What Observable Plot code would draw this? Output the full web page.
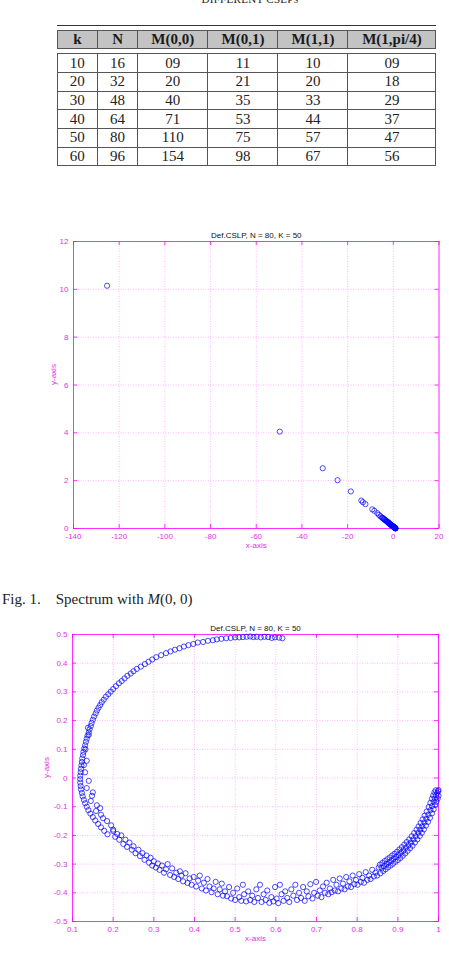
<!DOCTYPE html>
<html><head><meta charset="utf-8">
<script src="https://cdn.jsdelivr.net/npm/d3@7"></script>
<script src="https://cdn.jsdelivr.net/npm/@observablehq/plot@0.6"></script>
<style>
html,body{margin:0;padding:0;background:#fff}
body{width:449px;height:962px;position:relative;overflow:hidden}
.abs{position:absolute}
#ttitle{top:-6px;left:150px;width:200px;text-align:center;font:11px/11px "Liberation Serif",serif;font-variant:small-caps;color:#222;letter-spacing:0.3px}
#rule{top:24.5px;left:56.5px;width:379px;height:1px;background:#333}
table{border-collapse:collapse;table-layout:fixed;font-family:"Liberation Serif",serif;font-size:15px;color:#222}
td,th{border:1px solid #555;text-align:center;padding:0;overflow:hidden;white-space:nowrap}
#thead{top:30px;left:56.5px;width:379px}
#thead th{height:17.3px;line-height:17px;background:#c3c3c3;font-weight:bold;color:#1a1a1a}
#tbody{top:53.3px;left:56.5px;width:379px}
#tbody td{height:17.65px;line-height:17px}
#cap{top:592px;left:2px;font:15px/15px "Liberation Serif",serif;color:#222;white-space:pre}
#cap i{font-style:italic}
svg{display:block}
</style></head><body>
<script>
// ---------- table data ----------
const tableTitle = "DIFFERENT CSLPs";
const tableHeader = ["k", "N", "M(0,0)", "M(0,1)", "M(1,1)", "M(1,pi/4)"];
const kValues = ["10", "20", "30", "40", "50", "60"];
const nValues = ["16", "32", "48", "64", "80", "96"];
const m00 = ["09", "20", "40", "71", "110", "154"];
const m01 = ["11", "21", "35", "53", "75", "98"];
const m11 = ["10", "20", "33", "44", "57", "67"];
const m1pi4 = ["09", "18", "29", "37", "47", "56"];

// ---------- figure texts ----------
const plotTitle = "Def.CSLP, N = 80, K = 50";
const xLabel = "x-axis";
const yLabel = "y-axis";

// ---------- plot 1 (Spectrum with M(0,0)) ----------
const p1XDomain = [-140, 20];
const p1YDomain = [0, 12];
const p1XTicks = [-140, -120, -100, -80, -60, -40, -20, 0, 20];
const p1YTicks = [0, 2, 4, 6, 8, 10, 12];
const p1X = [-125.3, -49.7, -30.9, -24.4, -18.6, -14.0, -13.3, -12.2, -9.2, -8.3, -7.0, -6.3, -5.6,
  -5.0, -4.7, -4.4, -4.1, -3.9, -3.6, -3.4, -3.0, -2.8, -2.6, -2.4, -2.2, -2.0, -1.9, -1.6, -1.5,
  -1.3, -1.15, -1.0, -0.8, -0.7, -0.6, -0.5, -0.4, -0.25, -0.1, 0.0, 0.05, 0.2, 0.3, 0.35, 0.45,
  0.5, 0.6, 0.65, 0.7, 0.8, 0.85, 0.9, 0.95, 1.0];
const p1Y = [10.15, 4.05, 2.52, 2.02, 1.55, 1.17, 1.10, 1.02, 0.80, 0.74, 0.64, 0.57, 0.51,
  0.46, 0.44, 0.42, 0.40, 0.38, 0.36, 0.34, 0.31, 0.30, 0.28, 0.27, 0.25, 0.23, 0.22, 0.20, 0.19,
  0.18, 0.165, 0.15, 0.14, 0.13, 0.12, 0.115, 0.11, 0.10, 0.085, 0.075, 0.07, 0.06, 0.055, 0.05, 0.045,
  0.04, 0.03, 0.025, 0.02, 0.015, 0.012, 0.01, 0.008, 0.005];

// ---------- plot 2 ----------
const p2XDomain = [0.1, 1];
const p2YDomain = [-0.5, 0.5];
const p2XTicks = [0.1, 0.2, 0.3, 0.4, 0.5, 0.6, 0.7, 0.8, 0.9, 1];
const p2YTicks = [-0.5, -0.4, -0.3, -0.2, -0.1, 0, 0.1, 0.2, 0.3, 0.4, 0.5];
const arcTop = [[0.616,0.487],[0.608,0.489],[0.598,0.490],[0.590,0.488],[0.581,0.491],[0.572,0.492],[0.563,0.490],
  [0.553,0.492],[0.545,0.491],[0.537,0.493],[0.528,0.492],[0.519,0.491],[0.510,0.490],[0.500,0.490],[0.489,0.488],
  [0.478,0.487],[0.466,0.485],[0.455,0.483],[0.445,0.480],[0.433,0.478],[0.421,0.474],[0.408,0.472],[0.397,0.467],
  [0.385,0.463],[0.374,0.458],[0.363,0.452],[0.352,0.447],[0.341,0.441],[0.330,0.435],[0.318,0.428],[0.306,0.421],
  [0.296,0.413],[0.287,0.405],[0.278,0.397],[0.268,0.388],[0.258,0.380],[0.250,0.372],[0.243,0.364],[0.235,0.356],
  [0.228,0.347],[0.221,0.338],[0.214,0.330],[0.207,0.320],[0.200,0.310],[0.194,0.301],[0.188,0.292],[0.182,0.283],
  [0.177,0.273],[0.172,0.264],[0.168,0.254],[0.164,0.245]];
const arcLeft = [[0.160,0.235],[0.157,0.225],[0.153,0.214],[0.150,0.203],[0.147,0.192],[0.145,0.181],[0.142,0.170],
  [0.140,0.159],[0.137,0.148],[0.135,0.137],[0.133,0.126],[0.131,0.114],[0.129,0.103],[0.127,0.091],[0.126,0.080],
  [0.124,0.068],[0.123,0.056],[0.122,0.044],[0.121,0.032],[0.120,0.020],[0.119,0.008],[0.119,-0.004],[0.119,-0.016],
  [0.120,-0.028],[0.121,-0.040],[0.123,-0.052],[0.125,-0.064],[0.128,-0.076],[0.131,-0.088],[0.135,-0.100],
  [0.139,-0.112],[0.144,-0.124],[0.150,-0.136],[0.156,-0.148],[0.163,-0.160],[0.170,-0.172],[0.178,-0.184],
  [0.186,-0.196],[0.140,0.150],[0.132,0.100],[0.135,0.060],[0.131,0.020],[0.140,-0.010],[0.135,-0.035],
  [0.150,-0.050],[0.145,-0.080],[0.160,-0.095],[0.158,-0.115],[0.170,-0.128],[0.175,-0.140],[0.185,-0.150],
  [0.195,-0.165],[0.200,-0.180],[0.168,-0.105],[0.148,-0.062],[0.128,0.045],[0.138,0.175]];
const arcBottom = [[0.200,-0.185],[0.205,-0.205],[0.210,-0.195],[0.215,-0.215],[0.220,-0.200],[0.225,-0.230],
  [0.230,-0.215],[0.234,-0.240],[0.240,-0.225],[0.246,-0.250],[0.250,-0.238],[0.255,-0.262],[0.262,-0.250],
  [0.266,-0.272],[0.272,-0.262],[0.277,-0.285],[0.282,-0.270],[0.288,-0.295],[0.292,-0.278],[0.296,-0.305],
  [0.300,-0.290],[0.305,-0.312],[0.310,-0.298],[0.314,-0.320],[0.320,-0.305],[0.325,-0.330],[0.330,-0.318],
  [0.334,-0.300],[0.340,-0.338],[0.345,-0.315],[0.350,-0.345],[0.355,-0.330],[0.360,-0.352],[0.364,-0.325],
  [0.368,-0.340],[0.372,-0.360],[0.378,-0.332],[0.383,-0.366],[0.388,-0.350],[0.393,-0.372],[0.398,-0.345],
  [0.404,-0.378],[0.409,-0.358],[0.413,-0.340],[0.418,-0.385],[0.423,-0.365],[0.428,-0.392],[0.432,-0.352],
  [0.437,-0.378],[0.442,-0.398],[0.447,-0.385],[0.452,-0.362],[0.457,-0.405],[0.462,-0.388],[0.467,-0.368],
  [0.470,-0.410],[0.475,-0.395],[0.480,-0.412],[0.485,-0.380],[0.490,-0.420],[0.495,-0.400],[0.500,-0.425],
  [0.505,-0.385],[0.510,-0.415],[0.515,-0.428],[0.519,-0.372],[0.522,-0.405],[0.527,-0.430],[0.532,-0.395],
  [0.537,-0.425],[0.542,-0.410],[0.547,-0.432],[0.552,-0.388],[0.556,-0.418],[0.561,-0.372],[0.565,-0.432],
  [0.570,-0.405],[0.575,-0.425],[0.579,-0.392],[0.584,-0.435],[0.589,-0.415],[0.594,-0.430],[0.598,-0.380],
  [0.602,-0.420],[0.606,-0.436],[0.610,-0.372],[0.614,-0.405],[0.619,-0.428],[0.623,-0.395],[0.628,-0.418],
  [0.633,-0.432],[0.638,-0.388],[0.643,-0.410],[0.648,-0.372],[0.652,-0.425],[0.657,-0.400],[0.662,-0.418],
  [0.667,-0.380],[0.671,-0.428],[0.676,-0.395],[0.680,-0.412],[0.685,-0.370],[0.690,-0.420],[0.694,-0.400],
  [0.699,-0.362],[0.703,-0.410],[0.708,-0.392],[0.712,-0.415],[0.716,-0.378],[0.721,-0.400],[0.725,-0.365],
  [0.729,-0.405],[0.733,-0.385],[0.737,-0.398],[0.741,-0.355],[0.745,-0.392],[0.749,-0.372],[0.753,-0.395],
  [0.757,-0.350],[0.761,-0.385],[0.765,-0.368],[0.769,-0.388],[0.773,-0.345],[0.777,-0.378],[0.781,-0.360],
  [0.785,-0.380],[0.789,-0.340],[0.793,-0.370],[0.797,-0.355],[0.801,-0.372],[0.805,-0.335],[0.809,-0.362],
  [0.813,-0.348],[0.817,-0.365],[0.821,-0.328],[0.825,-0.355],[0.829,-0.340],[0.833,-0.352],[0.837,-0.320],
  [0.841,-0.343],[0.845,-0.330],[0.849,-0.340],[0.853,-0.312],[0.857,-0.332]];
const arcRight = [[0.860,-0.313],[0.866,-0.307],[0.872,-0.300],[0.878,-0.294],[0.884,-0.288],[0.890,-0.281],
  [0.896,-0.275],[0.902,-0.268],[0.908,-0.260],[0.914,-0.252],[0.920,-0.243],[0.926,-0.234],[0.932,-0.225],
  [0.938,-0.214],[0.944,-0.203],[0.950,-0.191],[0.955,-0.180],[0.960,-0.168],[0.965,-0.155],[0.970,-0.142],
  [0.975,-0.128],[0.980,-0.112],[0.984,-0.098],[0.988,-0.083],[0.991,-0.072],[0.994,-0.061],[0.997,-0.052],
  [0.999,-0.046],[1.000,-0.042],
  [0.856,-0.302],[0.862,-0.296],[0.868,-0.289],[0.874,-0.283],[0.880,-0.277],[0.886,-0.270],[0.892,-0.264],
  [0.898,-0.257],[0.904,-0.249],[0.910,-0.241],[0.916,-0.232],[0.922,-0.223],[0.928,-0.214],[0.934,-0.203],
  [0.940,-0.192],[0.946,-0.180],[0.951,-0.169],[0.956,-0.157],[0.961,-0.144],[0.966,-0.131],[0.971,-0.117],
  [0.976,-0.101],[0.980,-0.087],[0.984,-0.072],[0.987,-0.061],[0.990,-0.050],[0.993,-0.043],
  [0.864,-0.324],[0.870,-0.318],[0.876,-0.311],[0.882,-0.305],[0.888,-0.299],[0.894,-0.292],[0.900,-0.286],
  [0.906,-0.279],[0.912,-0.271],[0.918,-0.263],[0.924,-0.254],[0.930,-0.245],[0.936,-0.236],[0.942,-0.225],
  [0.948,-0.214],[0.954,-0.202],[0.959,-0.191],[0.964,-0.179],[0.969,-0.166],[0.974,-0.153],[0.979,-0.139],
  [0.984,-0.123],[0.988,-0.109],[0.992,-0.094],[0.995,-0.083],[0.998,-0.072],[1.000,-0.062]];

// ---------- page build ----------
const body = document.body;
function add(tag, id, cls, html) {
  const el = document.createElement(tag);
  if (id) el.id = id;
  if (cls) el.className = cls;
  if (html != null) el.innerHTML = html;
  body.appendChild(el);
  return el;
}
add("div", "ttitle", "abs", tableTitle);
add("div", "rule", "abs");
const colWidths = [40.6, 40, 70.4, 70, 70, 88];
function colgroup() { return "<colgroup>" + colWidths.map(w => `<col style="width:${w}px">`).join("") + "</colgroup>"; }
add("table", "thead", "abs", colgroup() + "<tr>" + tableHeader.map(h => `<th>${h}</th>`).join("") + "</tr>");
const cols = [kValues, nValues, m00, m01, m11, m1pi4];
add("table", "tbody", "abs", colgroup() + kValues.map((_, i) => "<tr>" + cols.map(c => `<td>${c[i]}</td>`).join("") + "</tr>").join(""));
add("div", "cap", "abs", "Fig. 1.    Spectrum with <i>M</i>(0, 0)");

const MAG = "#f0f";
const LAB = "#e62ee6";
function matlabPlot({points, xDomain, yDomain, xTicks, yTicks, marginLeft, marginRight, yLabelDx}) {
  const H = 340, mt = 21, mb = 32;
  const frameH = H - mt - mb;
  const frameW = 449 - marginLeft - marginRight;
  const fmt = d => String(d);
  return Plot.plot({
    width: 449, height: H, marginTop: mt, marginBottom: mb, marginLeft, marginRight,
    style: {fontFamily: "'Liberation Sans', Arial, sans-serif", fontSize: "8px", background: "transparent", overflow: "visible"},
    x: {domain: xDomain},
    y: {domain: yDomain},
    marks: [
      Plot.gridX(xTicks, {stroke: MAG, strokeOpacity: 0.28, strokeDasharray: "1,1.5"}),
      Plot.gridY(yTicks, {stroke: MAG, strokeOpacity: 0.28, strokeDasharray: "1,1.5"}),
      Plot.tickX(xTicks, {x: d => d, insetTop: frameH - 4, stroke: MAG, strokeOpacity: 0.8}),
      Plot.tickX(xTicks, {x: d => d, insetBottom: frameH - 4, stroke: MAG, strokeOpacity: 0.8}),
      Plot.tickY(yTicks, {y: d => d, insetRight: frameW - 4, stroke: MAG, strokeOpacity: 0.8}),
      Plot.tickY(yTicks, {y: d => d, insetLeft: frameW - 4, stroke: MAG, strokeOpacity: 0.8}),
      Plot.frame({stroke: MAG, strokeOpacity: 0.8}),
      Plot.axisX(xTicks, {tickSize: 0, tickPadding: 5, tickFormat: fmt, fill: LAB, label: null, fontSize: 8}),
      Plot.axisY(yTicks, {tickSize: 0, tickPadding: 5, tickFormat: fmt, fill: LAB, label: null, fontSize: 8}),
      Plot.text([xLabel], {frameAnchor: "bottom", dy: 19, fill: LAB, fontSize: 8}),
      Plot.text([yLabel], {frameAnchor: "left", dx: yLabelDx, rotate: -90, fill: LAB, fontSize: 8}),
      Plot.text([plotTitle], {frameAnchor: "top", dy: -9, fill: "#111", fontSize: 8}),
      Plot.dot(points, {x: d => d[0], y: d => d[1], r: 2.6, stroke: "#0000ff", strokeWidth: 0.7, fill: "none"})
    ]
  });
}

const p1 = matlabPlot({points: p1X.map((x, i) => [x, p1Y[i]]), xDomain: p1XDomain, yDomain: p1YDomain,
  xTicks: p1XTicks, yTicks: p1YTicks, marginLeft: 73, marginRight: 10.5, yLabelDx: -20});
p1.style.position = "absolute"; p1.style.left = "0px"; p1.style.top = "220px";
body.appendChild(p1);

const p2 = matlabPlot({points: [...arcTop, ...arcLeft, ...arcBottom, ...arcRight], xDomain: p2XDomain, yDomain: p2YDomain,
  xTicks: p2XTicks, yTicks: p2YTicks, marginLeft: 72, marginRight: 11, yLabelDx: -26});
p2.style.position = "absolute"; p2.style.left = "0px"; p2.style.top = "613.3px";
body.appendChild(p2);
</script>
</body></html>
